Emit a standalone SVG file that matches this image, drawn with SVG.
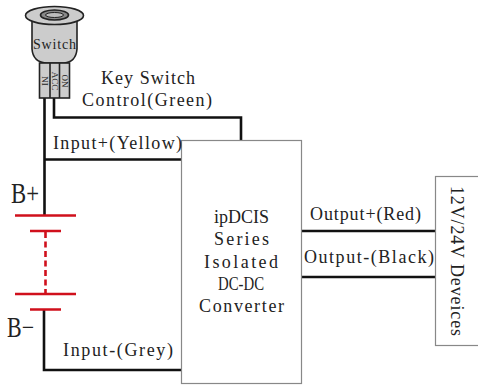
<svg xmlns="http://www.w3.org/2000/svg" width="478" height="385" viewBox="0 0 478 385">
<style>
text{font-family:"Liberation Serif",serif;font-size:18px;fill:#222}
.w{fill:none;stroke:#111;stroke-width:2.6}
.r{fill:none;stroke:#d0101c;stroke-width:2.6}
.b{fill:#fff;stroke:#888;stroke-width:1.2}
.s{stroke:#222;stroke-width:1.6}
.p{font-size:9px;text-anchor:middle}
</style>
<rect width="478" height="385" fill="#fff"/>
<g id="connectors">
<path class="w" d="M44.500 98V215M44.500 159.500H181"/>
<path class="w" d="M54 98V117.500H241V140"/>
<path class="w" d="M44 310V370H181"/>
<path class="w" d="M301 231H435M301 277H435"/>
</g>
<g id="battery">
<path class="r" d="M15 215.500H76M30 231H61M15 294H76M30 309.500H61"/>
<path class="r" d="M45.500 232V294" stroke-dasharray="6 3.500"/>
<text x="11" y="203" style="font-size:29px" textLength="28" lengthAdjust="spacingAndGlyphs">B+</text>
<text x="7" y="337" style="font-size:29px" textLength="27" lengthAdjust="spacingAndGlyphs">B−</text>
</g>
<g id="switch">
<path d="M32 18V49Q33 62 46 63H64Q76 62 77 49V18Z" fill="#ccc" stroke="#222" stroke-width="1.600"/>
<ellipse cx="54.500" cy="15.500" rx="29" ry="9" fill="#ccc" stroke="#222" stroke-width="1.600"/>
<ellipse cx="54.500" cy="15" rx="14" ry="5" fill="#888" stroke="#222" stroke-width="1.600"/>
<ellipse cx="54.500" cy="15" rx="9" ry="2.500" fill="#bbb" stroke="#222"/>
<rect x="39.500" y="63" width="30" height="35" fill="#ccc" class="s"/>
<path class="s" d="M50 63V98M59.500 63V98"/>
<text x="33" y="49" style="font-size:14px" textLength="43">Switch</text>
<text class="p" transform="translate(41.500 81) rotate(90)">NI</text>
<text class="p" transform="translate(51.500 81) rotate(90)">ACC</text>
<text class="p" transform="translate(61.500 81) rotate(90)">ON</text>
</g>
<g id="converter">
<rect class="b" x="181.500" y="140.500" width="120" height="243"/>
<text x="214" y="223" textLength="55" lengthAdjust="spacingAndGlyphs">ipDCIS</text>
<text x="214" y="245" textLength="55">Series</text>
<text x="204" y="268" textLength="74">Isolated</text>
<text x="218" y="290" textLength="46" lengthAdjust="spacingAndGlyphs">DC-DC</text>
<text x="199" y="312" textLength="85">Converter</text>
</g>
<g id="devices">
<rect class="b" x="435.500" y="176.500" width="44" height="169"/>
<text transform="translate(450.500 186) rotate(90)" textLength="150">12V/24V Deveices</text>
</g>
<g id="labels">
<text x="101" y="84" textLength="94">Key Switch</text>
<text x="82" y="106" textLength="130">Control(Green)</text>
<text x="53" y="149" textLength="129">Input+(Yellow)</text>
<text x="63" y="356" textLength="110">Input-(Grey)</text>
<text x="310" y="220" textLength="111">Output+(Red)</text>
<text x="304" y="263" textLength="130">Output-(Black)</text>
</g>
</svg>
